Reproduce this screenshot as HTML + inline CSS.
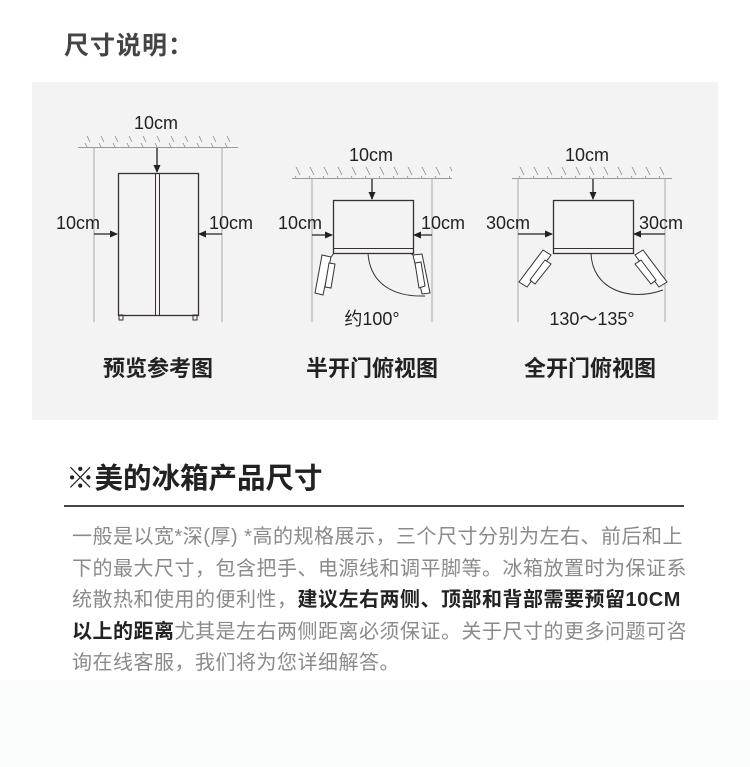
<!DOCTYPE html>
<html><head><meta charset="utf-8"><style>
html,body{margin:0;padding:0;}
body{width:750px;height:767px;background:#fbfcfc;position:relative;overflow:hidden;font-family:"Liberation Sans","Noto Sans CJK SC",sans-serif;}
.top{position:absolute;left:0;top:0;width:750px;height:680px;background:#fff;}
.t1{position:absolute;left:64px;top:26px;font-size:25px;font-weight:bold;color:#444;letter-spacing:1px;}
.panel{position:absolute;left:32px;top:82px;width:686px;height:338px;background:#f3f3f3;}
svg{position:absolute;left:0;top:0;}
.cap{position:absolute;top:351px;font-size:22px;color:#222;width:220px;text-align:center;font-weight:bold;}
.h2{position:absolute;left:66px;top:456px;font-size:28.5px;color:#222;font-weight:bold;}
.hr{position:absolute;left:64px;top:505px;width:620px;height:1.5px;background:#444;}
.p{position:absolute;left:72px;top:522px;font-size:20px;line-height:31.5px;color:#8a8a8a;letter-spacing:0.5px;white-space:nowrap;}
.p b{color:#222;font-weight:bold;}
</style></head><body>
<div class="top"></div>
<div class="t1">尺寸说明：</div>
<div class="panel"></div>
<svg width="750" height="767" viewBox="0 0 750 767">
<defs>
<pattern id="h" patternUnits="userSpaceOnUse" width="14" height="11" x="0" y="0">
<line x1="1" y1="0" x2="6" y2="10" stroke="#888" stroke-width="0.8"/>
</pattern>
<marker id="a" markerWidth="8" markerHeight="8" refX="7" refY="4" orient="auto" markerUnits="userSpaceOnUse">
<path d="M0,0.5 L8,4 L0,7.5 z" fill="#222"/>
</marker>
</defs>
<g font-family="Liberation Sans, sans-serif" font-size="18" fill="#222">
<!-- diagram 1 -->
<rect x="80" y="136" width="158" height="11" fill="url(#h)"/>
<line x1="78" y1="147.5" x2="238" y2="147.5" stroke="#999" stroke-width="1"/>
<line x1="94" y1="147" x2="94" y2="322" stroke="#aaa"/>
<line x1="222" y1="147" x2="222" y2="322" stroke="#aaa"/>
<rect x="118.5" y="173.5" width="80" height="142" fill="none" stroke="#3a2f2f" stroke-width="1.3"/>
<line x1="155.5" y1="174" x2="155.5" y2="315" stroke="#3a2f2f"/>
<line x1="159.5" y1="174" x2="159.5" y2="315" stroke="#3a2f2f"/>
<rect x="119" y="315" width="4" height="5" fill="none" stroke="#3a2f2f"/>
<rect x="193" y="315" width="4" height="5" fill="none" stroke="#3a2f2f"/>
<line x1="157" y1="148" x2="157" y2="172" stroke="#222" stroke-width="1.3" marker-end="url(#a)"/>
<line x1="94" y1="234" x2="117" y2="234" stroke="#222" stroke-width="1.3" marker-end="url(#a)"/>
<line x1="222" y1="234" x2="199" y2="234" stroke="#222" stroke-width="1.3" marker-end="url(#a)"/>
<text x="156" y="129" text-anchor="middle">10cm</text>
<text x="78" y="229" text-anchor="middle">10cm</text>
<text x="231" y="229" text-anchor="middle">10cm</text>
<!-- diagram 2 -->
<rect x="293" y="167" width="159" height="11" fill="url(#h)"/>
<line x1="292" y1="178.5" x2="452" y2="178.5" stroke="#999"/>
<line x1="312" y1="178" x2="312" y2="322" stroke="#aaa"/>
<line x1="432" y1="178" x2="432" y2="322" stroke="#aaa"/>
<rect x="333.5" y="200.5" width="80" height="53" fill="none" stroke="#3a2f2f" stroke-width="1.3"/>
<line x1="334" y1="248.5" x2="413" y2="248.5" stroke="#3a2f2f"/>
<line x1="372" y1="179" x2="372" y2="199" stroke="#222" stroke-width="1.3" marker-end="url(#a)"/>
<line x1="312" y1="235" x2="332" y2="235" stroke="#222" stroke-width="1.3" marker-end="url(#a)"/>
<line x1="432" y1="235" x2="414" y2="235" stroke="#222" stroke-width="1.3" marker-end="url(#a)"/>
<path d="M368,253 C370,285 395,297 425,296" fill="none" stroke="#333"/>
<g fill="#fff" stroke="#333" stroke-width="1">
<polygon points="322,255 331,257 323,295 315,293"/>
<polygon points="329,263 335,264 331,288 325,287"/>
<polygon points="413,255 422,254 430,293 422,294"/>
<polygon points="415,263 421,262 425,286 419,288"/>
</g>
<path d="M331,257 L334,253" stroke="#333"/><path d="M413,255 L410,253" stroke="#333"/>
<text x="371" y="161" text-anchor="middle">10cm</text>
<text x="300" y="229" text-anchor="middle">10cm</text>
<text x="443" y="229" text-anchor="middle">10cm</text>
<text x="372" y="325" text-anchor="middle">约100°</text>
<!-- diagram 3 -->
<rect x="512" y="167" width="160" height="11" fill="url(#h)"/>
<line x1="512" y1="178.5" x2="672" y2="178.5" stroke="#999"/>
<line x1="518" y1="178" x2="518" y2="322" stroke="#aaa"/>
<line x1="665" y1="178" x2="665" y2="322" stroke="#aaa"/>
<rect x="553.5" y="200.5" width="80" height="53" fill="none" stroke="#3a2f2f" stroke-width="1.3"/>
<line x1="554" y1="248.5" x2="633" y2="248.5" stroke="#3a2f2f"/>
<line x1="593" y1="179" x2="593" y2="199" stroke="#222" stroke-width="1.3" marker-end="url(#a)"/>
<line x1="518" y1="234" x2="552" y2="234" stroke="#222" stroke-width="1.3" marker-end="url(#a)"/>
<line x1="665" y1="234" x2="634" y2="234" stroke="#222" stroke-width="1.3" marker-end="url(#a)"/>
<path d="M591,253 C592,290 630,302 663,290" fill="none" stroke="#333"/>
<g fill="#fff" stroke="#333" stroke-width="1">
<polygon points="543,250 551,255 527,287 519,282"/>
<polygon points="545,260 551,264 535,284 530,280"/>
<polygon points="643,250 635,255 659,287 667,282"/>
<polygon points="641,260 635,264 651,284 656,280"/>
</g>
<text x="587" y="161" text-anchor="middle">10cm</text>
<text x="508" y="229" text-anchor="middle">30cm</text>
<text x="661" y="229" text-anchor="middle">30cm</text>
<text x="592" y="325" text-anchor="middle">130～135°</text>
</g>
</svg>
<div class="cap" style="left:48px">预览参考图</div>
<div class="cap" style="left:262px">半开门俯视图</div>
<div class="cap" style="left:480px">全开门俯视图</div>
<div class="h2">※美的冰箱产品尺寸</div>
<div class="hr"></div>
<div class="p">一般是以宽*深(厚) *高的规格展示，三个尺寸分别为左右、前后和上<br>下的最大尺寸，包含把手、电源线和调平脚等。冰箱放置时为保证系<br>统散热和使用的便利性，<b>建议左右两侧、顶部和背部需要预留10CM</b><br><b>以上的距离</b>尤其是左右两侧距离必须保证。关于尺寸的更多问题可咨<br>询在线客服，我们将为您详细解答。</div>
</body></html>
